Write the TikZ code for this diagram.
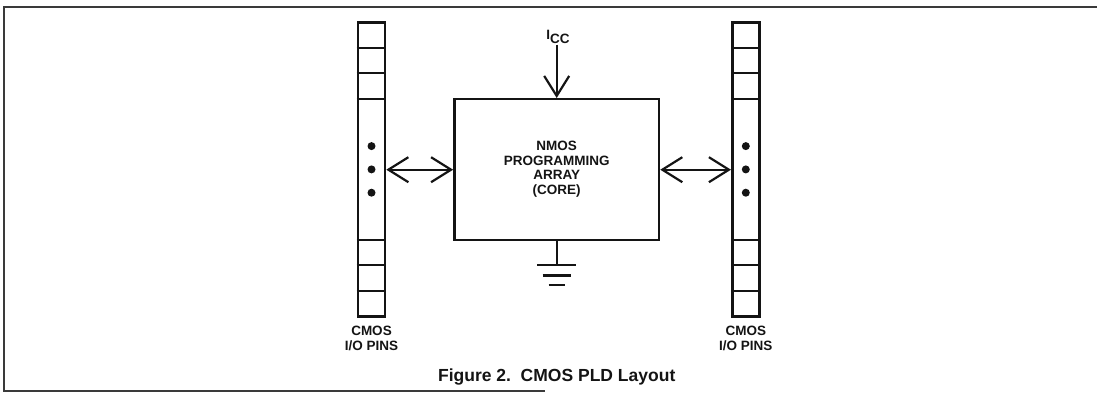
\documentclass[tikz,border=0pt]{standalone}
\usepackage{fontspec}
\setmainfont{Liberation Sans}
\usetikzlibrary{arrows.meta,positioning}
\definecolor{InkColor}{HTML}{141414}
\definecolor{FrameColor}{HTML}{3A3A3A}

\begin{document}
\begin{tikzpicture}[x=1pt,y=-1pt,
                    every node/.style={font=\fontsize{13.5}{14.5}\selectfont\bfseries,text=InkColor},
                    wire/.style={draw=InkColor,line width=2.2pt},
                    pincol/.style={rectangle,draw=InkColor,line width=2.6pt,
                                   minimum width=27pt,minimum height=294pt,inner sep=0pt},
                    biarrow/.style={wire,{Straight Barb[length=20pt,width=25pt]}-{Straight Barb[length=20pt,width=25pt]}},
                    inarrow/.style={wire,-{Straight Barb[length=20pt,width=25pt]}}]
        \useasboundingbox (0,0) rectangle (1097,394);
        \draw[FrameColor,line width=1.8pt] (1097,7) -- (4,7) -- (4,391) -- (545,391);
        \node[pincol] (lpins) at (371.5,169.7) {};
        \node[pincol] (rpins) at (745.8,169.7) {};
        \foreach \pins in {lpins,rpins}{
          \foreach \dy in {-121.4,-95.7,-70.4,70.3,97,122}
            \draw[wire,line width=2pt] ([yshift=\dy]\pins.west) -- ([yshift=\dy]\pins.east);
          \foreach \dy in {-23,0.3,23.6}
            \fill[InkColor] ([yshift=\dy]\pins.center) circle (4pt);
        }
        \node[rectangle,draw=InkColor,line width=2.4pt,
              minimum width=204.7pt,minimum height=141pt,
              align=center,inner sep=0pt] (core) at (556.7,169.7)
          {\raisebox{-3pt}{\begin{tabular}{@{}c@{}}NMOS\\PROGRAMMING\\ARRAY\\(CORE)\end{tabular}}};
        \node[inner sep=1pt] (icc) at (558,37)
          {I\raisebox{-0.45ex}{CC}};
        \node[align=center,inner sep=0pt,
              below=8pt of lpins] (llabel)
          {CMOS\\I/O PINS};
        \node[align=center,inner sep=0pt,
              below=8pt of rpins] (rlabel)
          {CMOS\\I/O PINS};
        \node[font=\fontsize{17.5}{19}\selectfont\bfseries] (caption) at (556.7,377)
          {Figure 2.\ \ CMOS PLD Layout};
        \draw[inarrow] (icc.south -| core.north) -- (core.north);
        \draw[biarrow] (lpins.east) -- (lpins.east -| core.west);
        \draw[biarrow] (core.east |- rpins.west) -- (rpins.west);
        \draw[wire] (core.south) -- ++(0,23.6) coordinate (gnd);
        \draw[wire] ([xshift=-19.7pt]gnd) -- ([xshift=19.7pt]gnd);
        \draw[wire] ([xshift=-14.2pt,yshift=-10.5pt]gnd) -- ([xshift=14.2pt,yshift=-10.5pt]gnd);
        \draw[wire] ([xshift=-8pt,yshift=-20pt]gnd) -- ([xshift=8pt,yshift=-20pt]gnd);
      \end{tikzpicture}
\end{document}
